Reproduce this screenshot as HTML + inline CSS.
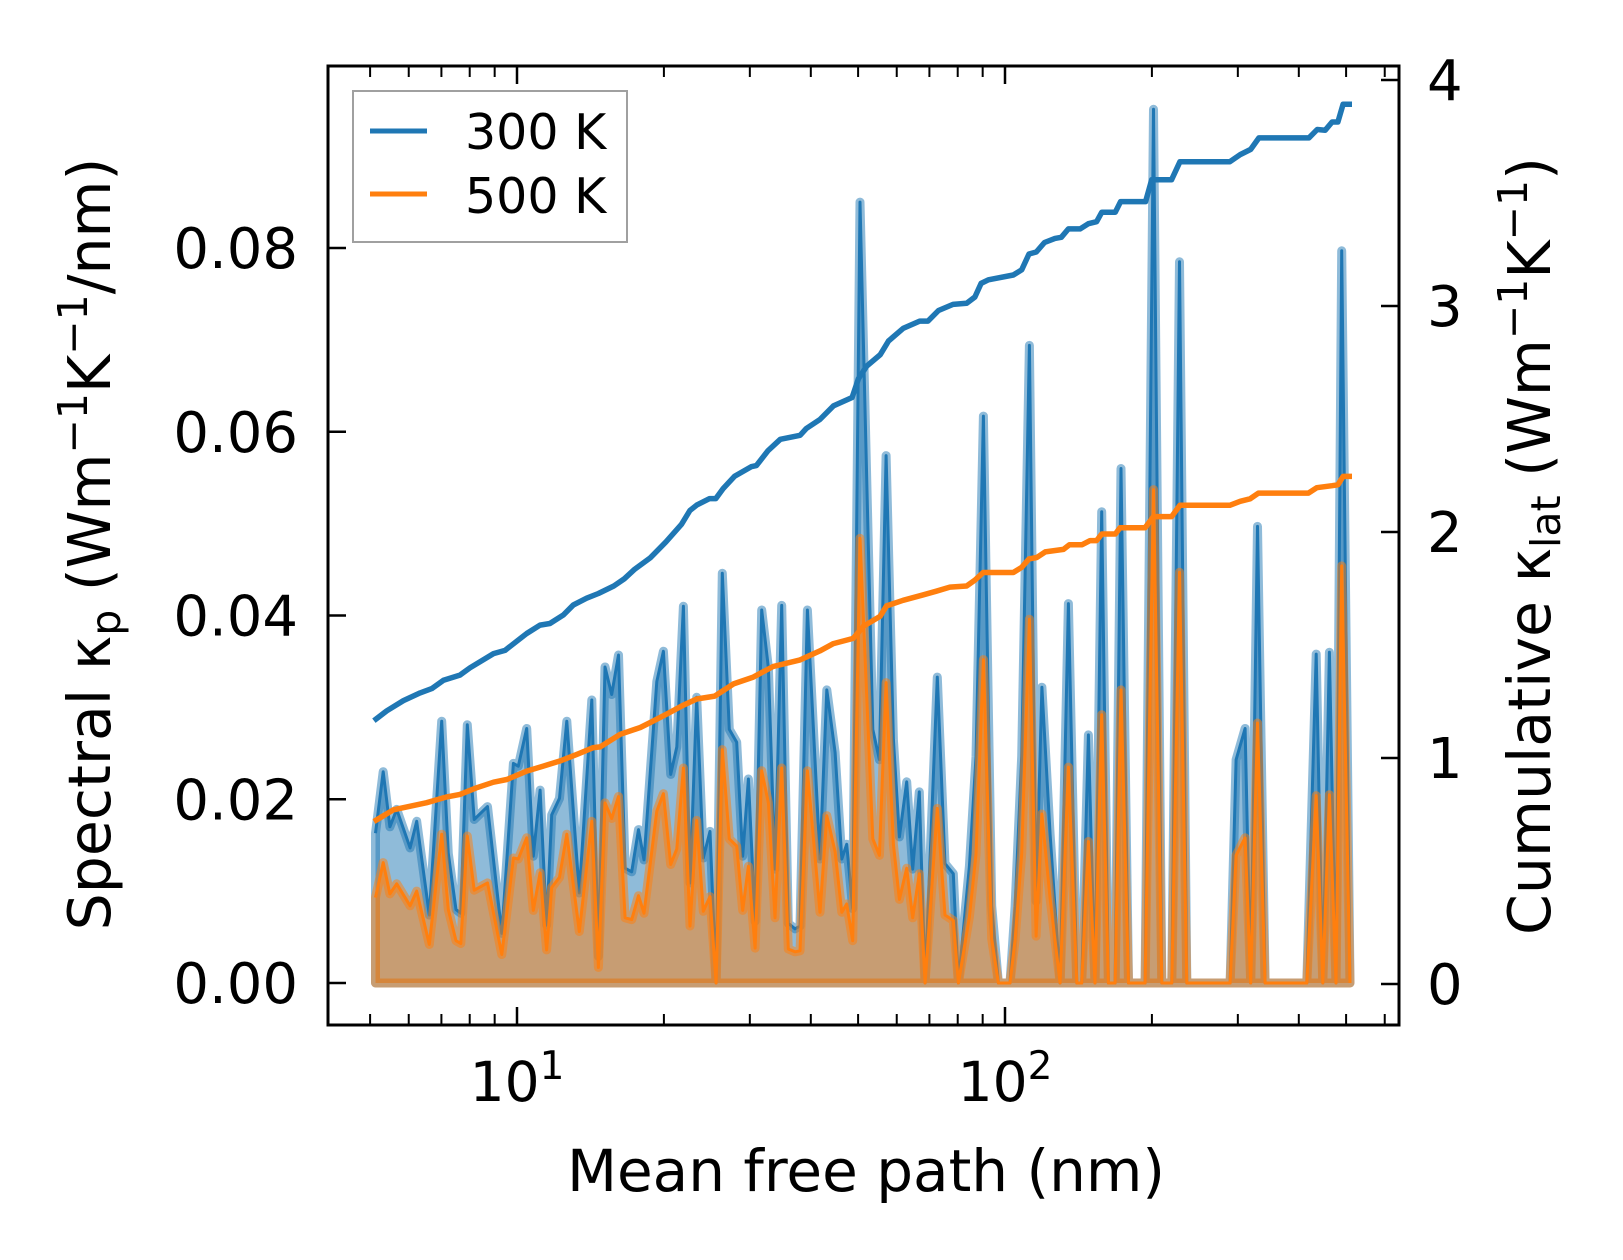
<!DOCTYPE html>
<html><head><meta charset="utf-8"><style>
html,body{margin:0;padding:0;background:#fff;}
svg{display:block;font-family:"DejaVu Sans","Liberation Sans",sans-serif;}
</style></head><body>
<svg id="chart" width="1623" height="1260" viewBox="0 0 1623 1260" xmlns="http://www.w3.org/2000/svg">
<defs><clipPath id="plotclip"><rect x="328" y="66" width="1071" height="959"/></clipPath></defs>
<rect x="0" y="0" width="1623" height="1260" fill="#fff"/>
<g id="series" clip-path="url(#plotclip)"></g>
<g id="axes"></g>
<g>
  <rect x="353" y="91" width="274" height="151" fill="#fff" fill-opacity="0.8" stroke="#a0a0a0" stroke-width="2"/>
  <line x1="370" y1="131" x2="427" y2="131" stroke="#1f77b4" stroke-width="5"/>
  <text x="465" y="149" font-size="49">300 K</text>
  <line x1="370" y1="194" x2="427" y2="194" stroke="#ff7f0e" stroke-width="5"/>
  <text x="465" y="213" font-size="49">500 K</text>
</g>
<text x="866" y="1191" font-size="58" text-anchor="middle">Mean free path (nm)</text>
<text transform="translate(110,544) rotate(-90)" font-size="58.5" text-anchor="middle">Spectral κ<tspan font-size="41" dy="10">p</tspan><tspan dy="-10"> (Wm</tspan><tspan font-size="41" dy="-23">−1</tspan><tspan dy="23">K</tspan><tspan font-size="41" dy="-23">−1</tspan><tspan dy="23">/nm)</tspan></text>
<text transform="translate(1550,546) rotate(-90)" font-size="58.5" text-anchor="middle">Cumulative κ<tspan font-size="41" dy="10">lat</tspan><tspan dy="-10"> (Wm</tspan><tspan font-size="41" dy="-23">−1</tspan><tspan dy="23">K</tspan><tspan font-size="41" dy="-23">−1</tspan><tspan dy="23">)</tspan></text>
</svg>
<script>
const mfp = [5.13,5.32,5.49,5.67,6.04,6.23,6.61,7.01,7.23,7.50,7.67,7.91,8.17,8.70,9.31,9.83,10.06,10.47,10.80,11.15,11.50,11.78,12.22,12.65,13.42,14.23,14.68,15.15,15.63,16.14,16.65,17.18,17.74,18.21,19.34,19.95,20.65,21.25,21.93,22.62,23.35,24.09,24.86,25.58,26.35,27.23,28.20,29.00,29.80,30.75,31.73,32.74,33.79,34.87,35.97,37.13,38.01,39.36,41.78,43.13,44.85,46.29,47.39,48.75,50.46,53.58,55.30,57.05,59.07,60.75,62.90,64.69,66.74,68.58,72.66,75.36,78.37,80.25,84.53,87.21,90.32,93.93,96.94,102.4,104.9,108.2,112.2,115.8,119.0,123.7,129.7,134.9,140.3,143.6,148.2,152.9,157.8,162.9,168.1,172.9,179.1,193.7,201.5,209.6,219.7,227.8,235.8,289.3,297.5,310.5,318.8,329.1,341.2,415.4,434.2,448.0,462.2,476.7,489.8,509.4];
const kappa300 = [0.0163,0.0230,0.0170,0.0189,0.0147,0.0176,0.0074,0.0285,0.0141,0.0080,0.0076,0.0281,0.0178,0.0192,0.0054,0.0239,0.0236,0.0277,0.0138,0.0210,0.0063,0.0183,0.0201,0.0285,0.0098,0.0308,0.0029,0.0344,0.0314,0.0357,0.0125,0.0121,0.0167,0.0134,0.0328,0.0361,0.0227,0.0257,0.0410,0.0109,0.0311,0.0136,0.0165,0,0.0446,0.0276,0.0262,0.0138,0.0222,0.0067,0.0406,0.0343,0.0124,0.0411,0.0065,0.0059,0.0062,0.0406,0.0135,0.0319,0.0251,0.0135,0.0151,0.0081,0.0850,0.0276,0.0243,0.0574,0.0265,0.0159,0.0219,0.0124,0.0208,0,0.0333,0.0130,0.0119,0,0.0127,0.0246,0.0617,0.0084,0,0,0.0083,0.0247,0.0694,0.0089,0.0322,0.0162,0,0.0413,0,0,0.0270,0,0.0513,0,0,0.0560,0,0,0.0951,0,0,0.0785,0,0,0.0243,0.0277,0,0.0497,0,0,0.0358,0,0.0360,0,0.0797,0];
const kappa500 = [0.0093,0.0131,0.0097,0.0108,0.0084,0.0100,0.0042,0.0162,0.0080,0.0046,0.0043,0.0160,0.0101,0.0109,0.0031,0.0136,0.0135,0.0158,0.0079,0.0120,0.0036,0.0104,0.0115,0.0162,0.0056,0.0176,0.0017,0.0196,0.0179,0.0203,0.0071,0.0069,0.0095,0.0076,0.0187,0.0206,0.0129,0.0146,0.0234,0.0062,0.0177,0.0078,0.0094,0,0.0254,0.0157,0.0149,0.0079,0.0127,0.0038,0.0231,0.0196,0.0071,0.0234,0.0037,0.0034,0.0035,0.0231,0.0077,0.0182,0.0143,0.0077,0.0086,0.0046,0.0484,0.0157,0.0139,0.0327,0.0151,0.0091,0.0125,0.0071,0.0119,0,0.0190,0.0074,0.0068,0,0.0072,0.0140,0.0352,0.0048,0,0,0.0047,0.0141,0.0396,0.0051,0.0184,0.0092,0,0.0235,0,0,0.0154,0,0.0292,0,0,0.0319,0,0,0.0537,0,0,0.0447,0,0,0.0139,0.0158,0,0.0283,0,0,0.0204,0,0.0205,0,0.0454,0];
const cumMfp300 = [5.09,5.41,5.85,6.33,6.69,7.07,7.64,8.01,8.95,9.45,10.47,11.15,11.68,12.45,13.04,13.89,14.68,15.79,16.59,17.42,18.76,20.19,21.73,22.61,23.35,24.81,25.55,26.45,27.92,30.20,30.95,32.66,34.64,38.03,39.16,41.75,44.50,48.61,50.07,52.08,55.51,57.72,61.83,66.88,69.55,73.06,78.26,83.41,86.75,89.34,92.47,104.0,108.2,112.0,115.9,120.5,126.6,130.4,134.9,142.5,148.2,154.1,157.9,168.3,172.5,194.1,199.8,219.5,228.2,288.8,303.4,318.7,331.4,419.6,436.3,453,468,481,493,514];
const cum300 = [1.165,1.209,1.254,1.288,1.307,1.344,1.367,1.399,1.462,1.476,1.551,1.588,1.595,1.633,1.677,1.707,1.728,1.761,1.793,1.835,1.886,1.956,2.034,2.095,2.119,2.148,2.148,2.192,2.247,2.289,2.294,2.359,2.410,2.428,2.458,2.498,2.558,2.595,2.678,2.734,2.785,2.845,2.901,2.933,2.933,2.980,3.007,3.012,3.040,3.100,3.116,3.137,3.160,3.230,3.239,3.281,3.299,3.304,3.341,3.341,3.364,3.373,3.415,3.415,3.462,3.462,3.559,3.559,3.638,3.638,3.670,3.693,3.744,3.744,3.781,3.778,3.814,3.814,3.893,3.893];
const cumMfp500 = [5.09,5.58,6.53,7.18,7.64,8.26,8.95,9.53,10.47,11.32,12.26,13.26,14.34,14.80,16.27,17.89,18.76,20.29,21.94,23.35,25.43,27.77,30.50,33.48,38.03,41.75,44.50,48.86,51.31,55.46,57.17,61.83,68.05,72.33,77.11,83.41,86.75,90.22,104.0,108.2,112.0,116.2,120.9,131.7,135.6,143.9,149.4,154.1,157.9,168.3,172.1,193.7,201.5,219.5,228.2,288.8,303.4,317.8,330.6,418.7,435.5,468,481,493,514];
const cum500 = [0.719,0.771,0.802,0.828,0.839,0.868,0.893,0.905,0.942,0.964,0.987,1.016,1.046,1.049,1.105,1.135,1.157,1.195,1.234,1.261,1.274,1.328,1.358,1.405,1.434,1.474,1.506,1.529,1.583,1.627,1.673,1.698,1.722,1.738,1.756,1.761,1.787,1.821,1.821,1.844,1.881,1.887,1.912,1.923,1.944,1.944,1.962,1.962,1.991,1.991,2.019,2.019,2.068,2.068,2.118,2.118,2.136,2.147,2.172,2.172,2.196,2.205,2.209,2.246,2.246];
const leftTicks = [0, 0.02, 0.04, 0.06, 0.08];
const leftTickLabels = ["0.00","0.02","0.04","0.06","0.08"];
const rightTicks = [0, 1, 2, 3, 4];
const rightTickLabels = ["0","1","2","3","4"];
const xMajorTicks = [10, 100];
const xMajorExp = ["1","2"];
const xMinorTicks = [5,6,7,8,9,20,30,40,50,60,70,80,90,200,300,400,500,600];

const NS = "http://www.w3.org/2000/svg";
const L = 328, R = 1399, T = 66, B = 1025;
function xs(m){ return 517 + (Math.log10(m) - 1) * 488; }
function yl(v){ return 983 - v * 9187.5; }
function yr(c){ return 984 - c * 226; }
function mk(tag, attrs, parent){
  const e = document.createElementNS(NS, tag);
  for (const k in attrs) e.setAttribute(k, attrs[k]);
  parent.appendChild(e);
  return e;
}
const series = document.getElementById('series');
const axes = document.getElementById('axes');

function spectral(vals, color, rgba, name){
  let pts = mfp.map((m,i)=> xs(m).toFixed(1)+','+yl(vals[i]).toFixed(1));
  const poly = xs(mfp[0]).toFixed(1)+','+yl(0)+' '+pts.join(' ')+' '+xs(mfp[mfp.length-1]).toFixed(1)+','+yl(0);
  const f = mk('polygon', {points: poly, fill: rgba, stroke: 'none'}, series);
  
  
  const e = mk('polygon', {points: poly, fill: 'none', stroke: rgba, 'stroke-width': 9, 'stroke-linejoin': 'round'}, series);
  
  
  const l = mk('polyline', {points: pts.join(' '), fill: 'none', stroke: color, 'stroke-width': 3, 'stroke-linejoin': 'round'}, series);
  
  
}
spectral(kappa300, '#1f77b4', 'rgba(31,119,180,0.5)', 'spectral-300k');
spectral(kappa500, '#ff7f0e', 'rgba(255,127,14,0.5)', 'spectral-500k');

function cumulative(xv, yv, color, name){
  const pts = xv.map((m,i)=> xs(m).toFixed(1)+','+yr(yv[i]).toFixed(1)).join(' ');
  const l = mk('polyline', {points: pts, fill: 'none', stroke: color, 'stroke-width': 5.5, 'stroke-linejoin': 'round'}, series);
  
  
}
cumulative(cumMfp300, cum300, '#1f77b4', 'cumulative-300k-line');
cumulative(cumMfp500, cum500, '#ff7f0e', 'cumulative-500k-line');

const frame = mk('rect', {x: L, y: T, width: R-L, height: B-T, fill: 'none', stroke: '#000', 'stroke-width': 3}, axes);



leftTicks.forEach((v,i)=>{
  const y = yl(v);
  const t = mk('line', {x1: L, y1: y, x2: L+18, y2: y, stroke: '#000', 'stroke-width': 2.5}, axes);
  
  
  const tx = mk('text', {x: 298, y: y+20, 'font-size': 56, 'text-anchor': 'end'}, axes);
  tx.textContent = leftTickLabels[i];
  
  
});
rightTicks.forEach((c,i)=>{
  const y = yr(c);
  const t = mk('line', {x1: R, y1: y, x2: R-18, y2: y, stroke: '#000', 'stroke-width': 2.5}, axes);
  
  
  const tx = mk('text', {x: 1427, y: y+20, 'font-size': 56, 'text-anchor': 'start'}, axes);
  tx.textContent = rightTickLabels[i];
  
  
});
xMajorTicks.forEach((m,i)=>{
  const x = xs(m);
  const t1 = mk('line', {x1: x, y1: B, x2: x, y2: B-18, stroke: '#000', 'stroke-width': 2.5}, axes);
  
  
  const t2 = mk('line', {x1: x, y1: T, x2: x, y2: T+18, stroke: '#000', 'stroke-width': 2.5}, axes);
  
  
  const tx = mk('text', {x: x, y: 1101, 'font-size': 55, 'text-anchor': 'middle'}, axes);
  
  
  const a = mk('tspan', {}, tx); a.textContent = '10';
  const b = mk('tspan', {'font-size': 39, dy: -22}, tx); b.textContent = xMajorExp[i];
});
xMinorTicks.forEach(m=>{
  const x = xs(m);
  const t1 = mk('line', {x1: x, y1: B, x2: x, y2: B-11, stroke: '#000', 'stroke-width': 2}, axes);
  
  
  const t2 = mk('line', {x1: x, y1: T, x2: x, y2: T+11, stroke: '#000', 'stroke-width': 2}, axes);
  
  
});
</script>
</body></html>
